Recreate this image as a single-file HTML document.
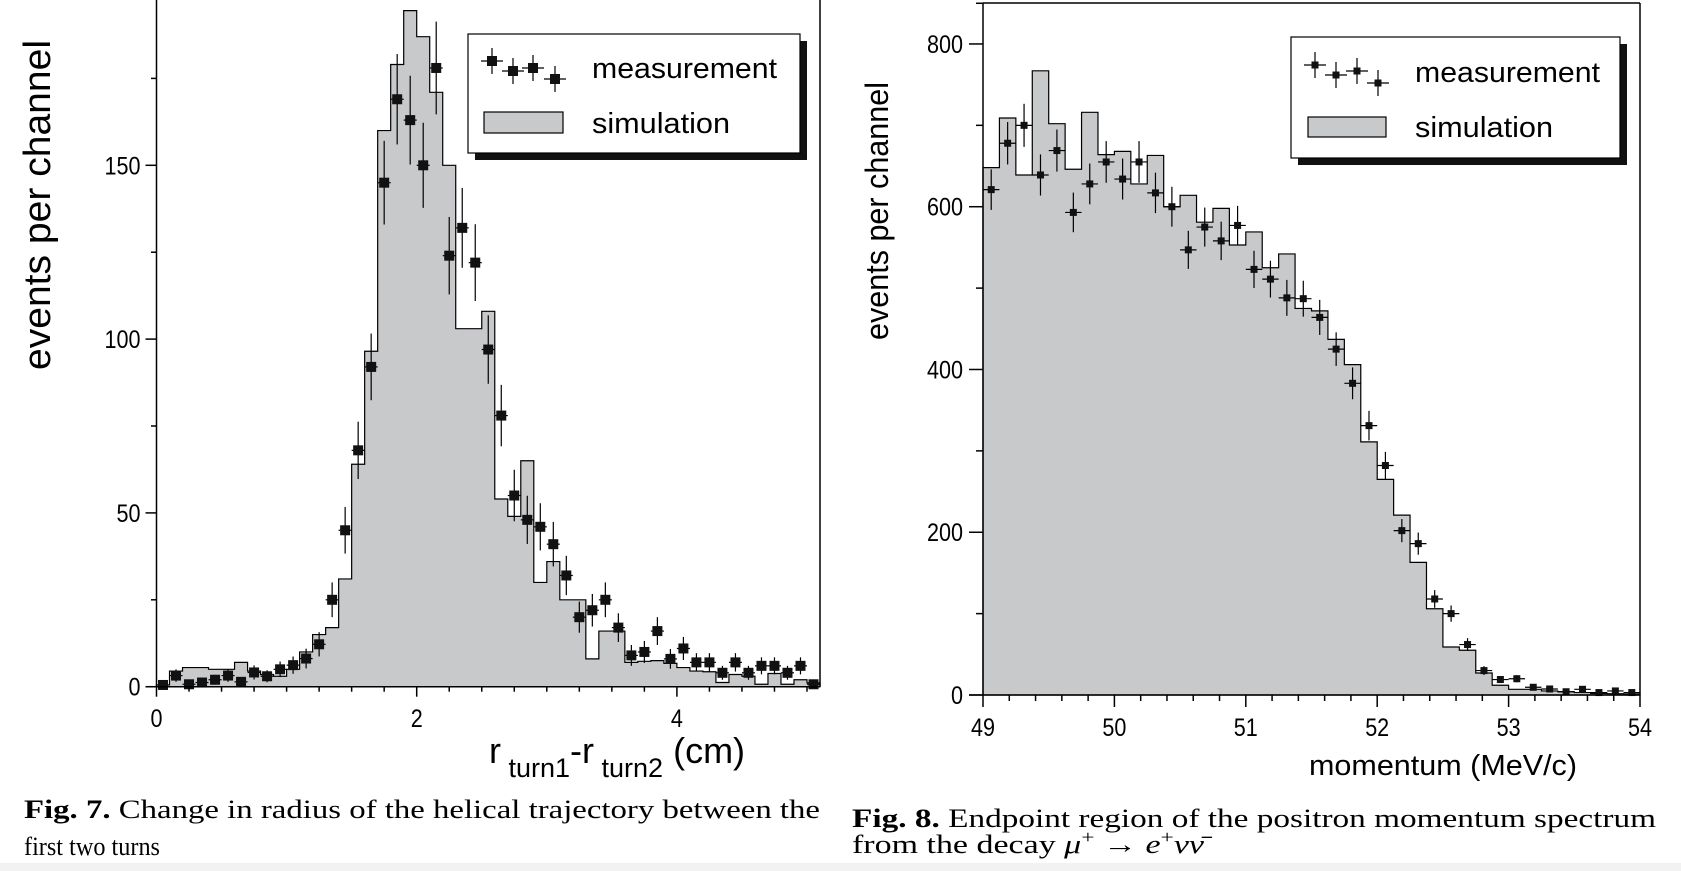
<!DOCTYPE html>
<html><head><meta charset="utf-8"><style>
html,body{margin:0;padding:0;background:#fff;}
svg{display:block;}
text{font-family:"Liberation Sans",sans-serif;fill:#000;}
.cap{font-family:"Liberation Serif",serif;font-size:26px;}
</style></head><body>
<svg id="fig" width="1681" height="871" viewBox="0 0 1681 871" xmlns="http://www.w3.org/2000/svg">
<rect x="0" y="863" width="1681" height="8" fill="#f2f2f2"/>
<g id="left"></g>
<g id="right"></g>
<text class="cap" x="24" y="818" textLength="796" lengthAdjust="spacingAndGlyphs"><tspan font-weight="bold">Fig. 7.</tspan> Change in radius of the helical trajectory between the</text>
<text class="cap" x="24" y="855" textLength="136" lengthAdjust="spacingAndGlyphs">first two turns</text>
<text class="cap" x="852" y="827" textLength="804" lengthAdjust="spacingAndGlyphs"><tspan font-weight="bold">Fig. 8.</tspan> Endpoint region of the positron momentum spectrum</text>
<text class="cap" x="852" y="853" textLength="352" lengthAdjust="spacingAndGlyphs">from the decay <tspan font-style="italic">μ</tspan><tspan font-size="18" dy="-10">+</tspan><tspan dy="10"> → </tspan><tspan font-style="italic">e</tspan><tspan font-size="18" dy="-10">+</tspan><tspan dy="10" font-style="italic">νν̄</tspan></text>
</svg>
<script>
// ---- Fig 7 data (bin width 0.1 cm, starting at 0) ----
const leftSim = [0.5,4.5,5.5,5.5,5,5,7,4.5,3.5,3,5,10,15,17,31,64,96.5,160,179,194.5,187,171,150,103,103,108,54,49,65,30,36,25,25,8,16,16,7,7.3,7.5,6.7,5.5,4.5,4.3,1.2,3.5,3,0.7,3.8,0.7,2,1.1];
const leftMeas = [0.5,3.2,0.7,1.2,2,3.2,1.4,4.1,3,5,6.2,8.1,12.2,25,45,68,92,145,169,163,150,178,124,132,122,97,78,55,48,46,41,32,20,22,25,17,9,10,16,8,11,7,7,4,7,4,6,6,4,6,0.7];
const leftYTicks = [0,50,100,150];
const leftXTicks = [0,2,4];
// ---- Fig 8 data (bin width 0.125 MeV/c, starting at 49) ----
const rightSim = [648,709,639,767,702,646,716,664,668,628,663,600,614,581,598,553,569,525,542,475,472,437,406,311,265,221,163,106,59,55,27,12,7,7,5,4,3,2,1.6,1.2];
const rightMeas = [621,678,700,639,669,593,628,655,634,655,617,600,547,575,558,577,523,511,488,487,464,425,383,331,282,202,186,118,100,62,30,19,20,9.5,7.4,4,7,3,5,3];
const rightYTicks = [0,200,400,600,800];
const rightXTicks = [49,50,51,52,53,54];

const NS="http://www.w3.org/2000/svg";
function mk(parent,tag,attrs,txt){const e=document.createElementNS(NS,tag);for(const k in attrs)e.setAttribute(k,attrs[k]);if(txt!==undefined)e.textContent=txt;parent.appendChild(e);return e;}

function drawChart(g,cfg){
  const {x,y,x0,bw,sim,meas,ms}=cfg;
  let d="M"+x(x0)+","+y(0);
  sim.forEach((v,i)=>{d+=" L"+x(x0+i*bw)+","+y(v)+" L"+x(x0+(i+1)*bw)+","+y(v);});
  d+=" L"+x(x0+sim.length*bw)+","+y(0)+" Z";
  const h=mk(g,"path",{d:d,fill:"#c8c9cb",stroke:"#000","stroke-width":1.2});
  
  
  meas.forEach((v,i)=>{
    const cx=x(x0+(i+0.5)*bw),cy=y(v),e=Math.sqrt(v);
    const pg=mk(g,"g",{});
    
    
    mk(pg,"line",{x1:cx,x2:cx,y1:y(v+e),y2:y(Math.max(0,v-e)),stroke:"#000","stroke-width":1.2});
    mk(pg,"line",{x1:x(x0+i*bw),x2:x(x0+(i+1)*bw),y1:cy,y2:cy,stroke:"#000","stroke-width":1.2});
    mk(pg,"rect",{x:cx-ms/2,y:cy-ms/2,width:ms,height:ms,fill:"#111"});
  });
}
function axes(g,cfg){
  const {x,y,xMin,xMax,yTop,yTicks,yMinor,xTicks,xMinor,yMajLen,xMajLen,frame,yLabelDx,xLabelY}=cfg;
  const ax=mk(g,"g",{stroke:"#000","stroke-width":1.5});
  
  
  mk(ax,"line",{x1:x(xMin),x2:x(xMin),y1:yTop,y2:y(0)});
  mk(ax,"line",{x1:x(xMin)-yMajLen,x2:x(xMax),y1:y(0),y2:y(0)});
  mk(ax,"line",{x1:x(xMax),x2:x(xMax),y1:frame?yTop:0,y2:y(0)});
  if(frame) mk(ax,"line",{x1:x(xMin),x2:x(xMax),y1:yTop,y2:yTop});
  yMinor.forEach(v=>mk(ax,"line",{x1:x(xMin)-yMajLen/2,x2:x(xMin),y1:y(v),y2:y(v)}));
  yTicks.forEach(v=>{mk(ax,"line",{x1:x(xMin)-yMajLen,x2:x(xMin),y1:y(v),y2:y(v)});
    const s=String(v);
    const t=mk(g,"text",{x:x(xMin)-yLabelDx,y:y(v)+9,"text-anchor":"end","font-size":25,textLength:s.length*12,lengthAdjust:"spacingAndGlyphs"},s);
    
    });
  xMinor.forEach(v=>mk(ax,"line",{x1:x(v),x2:x(v),y1:y(0),y2:y(0)+xMajLen/2}));
  xTicks.forEach(v=>{mk(ax,"line",{x1:x(v),x2:x(v),y1:y(0),y2:y(0)+xMajLen});
    const s=String(v);
    const t=mk(g,"text",{x:x(v),y:xLabelY,"text-anchor":"middle","font-size":25,textLength:s.length*12,lengthAdjust:"spacingAndGlyphs"},s);
    
    });
}
function legend(g,L){
  const lg=mk(g,"g",{});
  
  
  mk(lg,"rect",{x:L.x+7,y:L.y+7,width:L.w,height:L.h,fill:"#111"});
  mk(lg,"rect",{x:L.x,y:L.y,width:L.w,height:L.h,fill:"#fff",stroke:"#000","stroke-width":1.2});
  L.pts.forEach(p=>{mk(lg,"line",{x1:p[0],x2:p[0],y1:p[1]-13,y2:p[1]+13,stroke:"#000","stroke-width":1.2});
    mk(lg,"line",{x1:p[0]-11,x2:p[0]+11,y1:p[1],y2:p[1],stroke:"#000","stroke-width":1.2});
    mk(lg,"rect",{x:p[0]-L.ms/2,y:p[1]-L.ms/2,width:L.ms,height:L.ms,fill:"#111"});});
  mk(lg,"rect",{x:L.sw[0],y:L.sw[1],width:L.sw[2],height:L.sw[3],fill:"#c8c9cb",stroke:"#000","stroke-width":1.2});
  const t1=mk(lg,"text",{x:L.tx,y:L.t1y,"font-size":29,textLength:185,lengthAdjust:"spacingAndGlyphs"},"measurement");
  
  
  const t2=mk(lg,"text",{x:L.tx,y:L.t2y,"font-size":29,textLength:138,lengthAdjust:"spacingAndGlyphs"},"simulation");
  
  
}

// Left chart
const gl=document.getElementById('left');
const xL=v=>156.5+v*130.1, yL=v=>686.7-v*3.476;
drawChart(gl,{x:xL,y:yL,x0:0,bw:0.1,sim:leftSim,meas:leftMeas,ms:10});
axes(gl,{x:xL,y:yL,xMin:0,xMax:(820-156.5)/130.1,yTop:0,yTicks:leftYTicks,yMinor:[25,75,125,175],xTicks:leftXTicks,xMinor:[0.25,0.5,0.75,1,1.25,1.5,1.75,2.25,2.5,2.75,3,3.25,3.5,3.75,4.25,4.5,4.75,5],yMajLen:11,xMajLen:10,frame:false,yLabelDx:16,xLabelY:727});
legend(gl,{x:468,y:34,w:332,h:119,ms:10,pts:[[492,61],[513,71],[533,68],[555,79]],sw:[484,112,79,21],tx:592,t1y:78,t2y:133});
let t=mk(gl,"text",{x:0,y:0,"font-size":38,"text-anchor":"middle",transform:"translate(50,205) rotate(-90)",textLength:330,lengthAdjust:"spacingAndGlyphs"},"events per channel");


t=mk(gl,"text",{x:489,y:763,"font-size":36},"");


t.innerHTML='r<tspan font-size="27" dy="14"> turn1</tspan><tspan dy="-14">-r</tspan><tspan font-size="27" dy="14"> turn2</tspan><tspan dy="-14"> (cm)</tspan>';

// Right chart
const gr=document.getElementById('right');
const xR=v=>983+(v-49)*131.4, yR=v=>695-v*0.8138;
drawChart(gr,{x:xR,y:yR,x0:49,bw:0.125,sim:rightSim,meas:rightMeas,ms:7});
const rxMinor=[];for(let i=1;i<25;i++){if(i%5)rxMinor.push(49+i*0.2);}
axes(gr,{x:xR,y:yR,xMin:49,xMax:54,yTop:3,yTicks:rightYTicks,yMinor:[100,300,500,700,850],xTicks:rightXTicks,xMinor:rxMinor,yMajLen:14,xMajLen:12,frame:true,yLabelDx:20,xLabelY:736});
legend(gr,{x:1291,y:37,w:329,h:121,ms:7,pts:[[1315,65],[1336,75],[1357,71],[1378,83]],sw:[1308,117,78,20],tx:1415,t1y:82,t2y:137});
t=mk(gr,"text",{x:0,y:0,"font-size":32,"text-anchor":"middle",transform:"translate(888,211) rotate(-90)",textLength:258,lengthAdjust:"spacingAndGlyphs"},"events per channel");


t=mk(gr,"text",{x:1309,y:775,"font-size":29,textLength:268,lengthAdjust:"spacingAndGlyphs"},"momentum (MeV/c)");


</script>
</body></html>
